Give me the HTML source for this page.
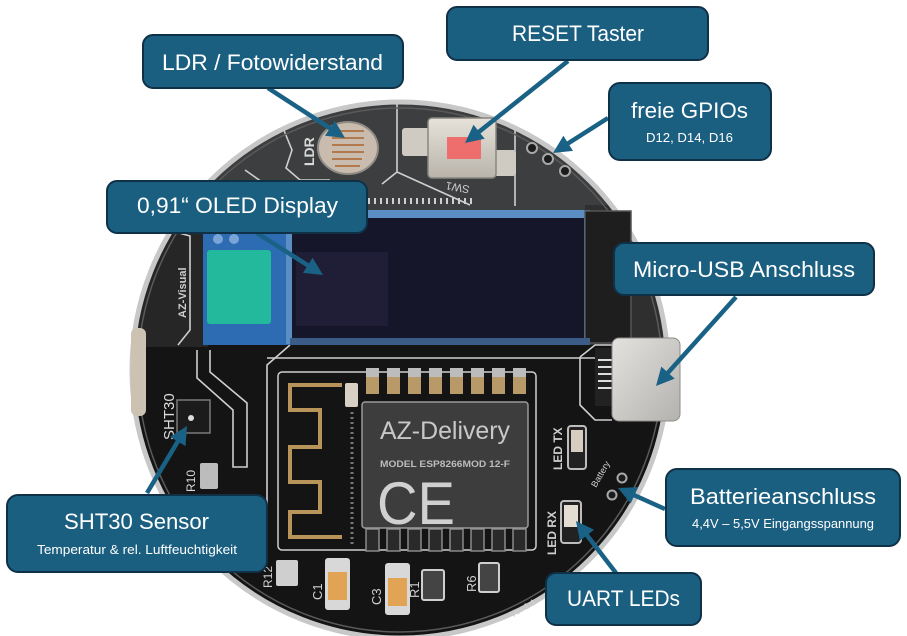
<!DOCTYPE html>
<html><head><meta charset="utf-8"><style>
html,body{margin:0;padding:0;background:#fff;}
svg{display:block;}
text{font-family:"Liberation Sans",sans-serif;}
</style></head><body>
<svg width="907" height="636" viewBox="0 0 907 636" xmlns="http://www.w3.org/2000/svg">
<defs>
<clipPath id="cc"><circle cx="400" cy="370" r="268"/></clipPath>
<linearGradient id="usb" x1="0" y1="0" x2="1" y2="1"><stop offset="0" stop-color="#e4e2de"/><stop offset="1" stop-color="#b4b2ae"/></linearGradient>
<linearGradient id="btn" x1="0" y1="0" x2="0" y2="1"><stop offset="0" stop-color="#e6e2da"/><stop offset="1" stop-color="#b9b4aa"/></linearGradient>
</defs>

<!-- PCB -->
<circle cx="400" cy="370" r="268" fill="#141414"/>
<g clip-path="url(#cc)">
 <rect x="100" y="95" width="620" height="118" fill="#3d3e40"/>
 <rect x="120" y="205" width="88" height="142" fill="#262626"/>
 <rect x="585" y="205" width="100" height="140" fill="#2f2f2f"/>
 <!-- silkscreen top band -->
 <g fill="none" stroke="#cfcfcf" stroke-width="1.6">
  <polyline points="283,128 292,150 286,168 300,180 330,180"/>
  <polyline points="397,104 397,172 382,184"/>
  <polyline points="397,172 470,205"/>
  <line x1="515" y1="128" x2="515" y2="206"/>
  <polyline points="245,170 262,182 250,200"/>
 </g>
 <line x1="368" y1="201" x2="476" y2="201" stroke="#cfcfcf" stroke-width="6" stroke-dasharray="2,4"/>
 <!-- left band silkscreen -->
 <g fill="none" stroke="#cfcfcf" stroke-width="1.6">
  <polyline points="168,230 190,236 190,330 178,345"/>
  <polyline points="197,350 197,378 233,410 233,467 247,467 247,403 210,372 210,350"/>
  <polyline points="267,358 620,358"/>
  <polyline points="290,345 267,365 267,540"/>
  <polyline points="580,357 595,345 612,345"/>
  <polyline points="612,420 595,420 580,405 580,357"/>
 </g>
</g>
<circle cx="400" cy="370" r="268" fill="none" stroke="#c8c8c8" stroke-width="5"/>
<circle cx="400" cy="370" r="262" fill="none" stroke="#5a5a5a" stroke-width="1.5" clip-path="url(#cc)"/>
<rect x="131" y="328" width="15" height="88" rx="6" fill="#cbc2b2"/>

<!-- LDR -->
<ellipse cx="348" cy="148" rx="30" ry="26" fill="#c9bcae" stroke="#8e8a84" stroke-width="2"/>
<g stroke="#b27a4c" stroke-width="2">
 <line x1="334" y1="131" x2="364" y2="131"/><line x1="332" y1="138" x2="364" y2="138"/>
 <line x1="332" y1="145" x2="364" y2="145"/><line x1="332" y1="152" x2="364" y2="152"/>
 <line x1="332" y1="159" x2="362" y2="159"/><line x1="335" y1="166" x2="360" y2="166"/>
</g>
<text x="0" y="0" transform="translate(314,166) rotate(-90)" font-size="14" font-weight="bold" fill="#d8d8d8">LDR</text>

<!-- Reset button -->
<rect x="402" y="128" width="30" height="28" rx="3" fill="#cfcac2"/>
<rect x="492" y="150" width="24" height="26" rx="3" fill="#cfcac2"/>
<rect x="428" y="118" width="68" height="60" rx="4" fill="url(#btn)" stroke="#8a867e" stroke-width="1.5"/>
<rect x="447" y="137" width="34" height="22" fill="#ee6e6e"/>
<text x="0" y="0" transform="translate(470,186) rotate(190)" font-size="11" fill="#cfcfcf">SW1</text>

<!-- GPIO holes -->
<g fill="#1c1c1c" stroke="#a8a8a8" stroke-width="2">
 <circle cx="532" cy="148" r="5"/><circle cx="548" cy="159" r="5"/><circle cx="565" cy="171" r="5"/>
</g>

<!-- OLED module -->
<rect x="203" y="230" width="90" height="115" fill="#2d6bb3"/>
<circle cx="218" cy="239" r="5" fill="#7aa4d6"/><circle cx="234" cy="239" r="5" fill="#7aa4d6"/>
<rect x="207" y="250" width="64" height="74" rx="3" fill="#22b99d"/>
<rect x="286" y="210" width="304" height="134" fill="#5b8ec4"/>
<rect x="292" y="218" width="292" height="120" fill="#16162a"/>
<rect x="296" y="252" width="92" height="74" fill="#201d36"/>
<rect x="585" y="211" width="46" height="132" fill="#1e1e1e" stroke="#555" stroke-width="1.5"/>
<rect x="290" y="338" width="300" height="7" fill="#3b5c86"/>
<text x="0" y="0" transform="translate(186,318) rotate(-90)" font-size="11" font-weight="bold" fill="#cfcfcf">AZ-Visual</text>

<!-- ESP module -->
<g fill="none" stroke="#cfcfcf" stroke-width="1.5"><rect x="278" y="372" width="258" height="178" rx="4"/></g>
<path d="M342,385 H290 V410 H320 V447 H290 V482 H320 V512 H290 V537 H342" fill="none" stroke="#b8945a" stroke-width="4"/>
<rect x="345" y="383" width="13" height="24" rx="2" fill="#d8d0c4"/>
<line x1="352" y1="412" x2="352" y2="545" stroke="#777" stroke-width="3" stroke-dasharray="2,3"/>
<g>
 <rect x="366" y="368" width="13" height="26" fill="#b89a68"/><rect x="387" y="368" width="13" height="26" fill="#b89a68"/>
 <rect x="408" y="368" width="13" height="26" fill="#b89a68"/><rect x="429" y="368" width="13" height="26" fill="#b89a68"/>
 <rect x="450" y="368" width="13" height="26" fill="#b89a68"/><rect x="471" y="368" width="13" height="26" fill="#b89a68"/>
 <rect x="492" y="368" width="13" height="26" fill="#b89a68"/><rect x="513" y="368" width="13" height="26" fill="#b89a68"/>
</g>
<g fill="#bcbcbc">
 <rect x="366" y="368" width="13" height="9"/><rect x="387" y="368" width="13" height="9"/>
 <rect x="408" y="368" width="13" height="9"/><rect x="429" y="368" width="13" height="9"/>
 <rect x="450" y="368" width="13" height="9"/><rect x="471" y="368" width="13" height="9"/>
 <rect x="492" y="368" width="13" height="9"/><rect x="513" y="368" width="13" height="9"/>
</g>
<g fill="#2a2a2a" stroke="#8a8a8a" stroke-width="1.5">
 <rect x="366" y="529" width="13" height="22"/><rect x="387" y="529" width="13" height="22"/>
 <rect x="408" y="529" width="13" height="22"/><rect x="429" y="529" width="13" height="22"/>
 <rect x="450" y="529" width="13" height="22"/><rect x="471" y="529" width="13" height="22"/>
 <rect x="492" y="529" width="13" height="22"/><rect x="513" y="529" width="13" height="22"/>
</g>
<rect x="362" y="402" width="166" height="126" rx="3" fill="#3d3d3d" stroke="#9a9a9a" stroke-width="1.5"/>
<text x="380" y="439" font-size="25" fill="#c8c8c8" textLength="130" lengthAdjust="spacingAndGlyphs">AZ-Delivery</text>
<text x="380" y="467" font-size="9" font-weight="bold" fill="#bdbdbd" textLength="130" lengthAdjust="spacingAndGlyphs">MODEL ESP8266MOD 12-F</text>
<text x="377" y="524" font-size="60" fill="#d0d0d0" textLength="78" lengthAdjust="spacingAndGlyphs">CE</text>

<!-- USB -->
<rect x="595" y="348" width="18" height="58" fill="#222"/>
<g stroke="#ddd" stroke-width="2"><line x1="598" y1="360" x2="612" y2="360"/><line x1="598" y1="367" x2="612" y2="367"/><line x1="598" y1="374" x2="612" y2="374"/><line x1="598" y1="381" x2="612" y2="381"/><line x1="598" y1="388" x2="612" y2="388"/></g>
<rect x="612" y="338" width="68" height="83" rx="7" fill="url(#usb)" stroke="#8e8c88" stroke-width="1"/>

<!-- SHT30 -->
<rect x="177" y="400" width="33" height="33" fill="#1b1b1b" stroke="#7a7a7a" stroke-width="1.5"/>
<circle cx="191" cy="418" r="3" fill="#ddd"/>
<text x="0" y="0" transform="translate(174,440) rotate(-90)" font-size="15" fill="#dcdcdc">SHT30</text>
<rect x="200" y="463" width="18" height="26" rx="2" fill="#bcbcbc"/>
<text x="0" y="0" transform="translate(195,492) rotate(-90)" font-size="12" fill="#d8d8d8">R10</text>

<!-- UART LEDs -->
<rect x="568" y="426" width="18" height="43" rx="3" fill="#222" stroke="#bdbdbd" stroke-width="2"/>
<rect x="571" y="430" width="12" height="22" fill="#d6cdc0"/>
<rect x="561" y="501" width="20" height="42" rx="3" fill="#222" stroke="#bdbdbd" stroke-width="2"/>
<rect x="564" y="505" width="14" height="22" fill="#e4ddd2"/>
<text x="0" y="0" transform="translate(562,470) rotate(-90)" font-size="12" font-weight="bold" fill="#cfcfcf">LED TX</text>
<text x="0" y="0" transform="translate(556,555) rotate(-90)" font-size="12" font-weight="bold" fill="#cfcfcf">LED RX</text>
<!-- battery conn -->
<g fill="#1c1c1c" stroke="#a8a8a8" stroke-width="2"><circle cx="622" cy="478" r="4.5"/><circle cx="612" cy="495" r="4.5"/></g>
<text x="0" y="0" transform="translate(596,488) rotate(-60)" font-size="9" fill="#cfcfcf">Battery</text>

<!-- bottom components -->
<rect x="276" y="560" width="22" height="26" rx="2" fill="#cfcfcf"/>
<rect x="325" y="558" width="25" height="52" rx="3" fill="#d8d8d8"/><rect x="328" y="572" width="19" height="28" fill="#e0a454"/>
<rect x="385" y="563" width="25" height="52" rx="3" fill="#d8d8d8"/><rect x="388" y="578" width="19" height="28" fill="#e0a454"/>
<rect x="422" y="570" width="22" height="30" rx="2" fill="#444" stroke="#cfcfcf" stroke-width="2"/>
<rect x="479" y="563" width="20" height="29" rx="2" fill="#444" stroke="#cfcfcf" stroke-width="2"/>
<text x="0" y="0" transform="translate(322,600) rotate(-90)" font-size="13" fill="#d0d0d0">C1</text>
<text x="0" y="0" transform="translate(381,605) rotate(-90)" font-size="13" fill="#d0d0d0">C3</text>
<text x="0" y="0" transform="translate(419,598) rotate(-90)" font-size="13" fill="#d0d0d0">R1</text>
<text x="0" y="0" transform="translate(476,592) rotate(-90)" font-size="13" fill="#d0d0d0">R6</text>
<text x="0" y="0" transform="translate(272,588) rotate(-90)" font-size="12" fill="#d0d0d0">R12</text>
<text x="0" y="0" transform="translate(512,618) rotate(-30)" font-size="9" fill="#d0d0d0">Ver 1.1</text>

<!-- arrows -->
<g stroke="#1a6285" stroke-width="4.5" stroke-linecap="butt">
 <line x1="268" y1="88" x2="331.6" y2="129.3"/>
 <line x1="257" y1="233" x2="309.5" y2="266.4"/>
 <line x1="568" y1="61" x2="477.5" y2="133"/>
 <line x1="608" y1="118" x2="566.5" y2="144.4"/>
 <line x1="736" y1="297" x2="666.7" y2="374.1"/>
 <line x1="147" y1="493" x2="178.8" y2="439.8"/>
 <line x1="665" y1="509" x2="632.6" y2="494.5"/>
 <line x1="616" y1="573" x2="585.8" y2="533.7"/>
</g>
<g fill="#1a6285">
 <polygon points="345,138 325,135.8 334.8,120.7"/>
 <polygon points="323,275 303,272.9 312.6,257.7"/>
 <polygon points="465,143 473.5,124.8 484.7,138.8"/>
 <polygon points="553,153 563.4,135.7 573,150.9"/>
 <polygon points="656,386 661.3,366.6 674.7,378.6"/>
 <polygon points="187,426 185.5,446.1 170.1,436.9"/>
 <polygon points="618,488 638.1,487.1 630.7,503.5"/>
 <polygon points="576,521 594.1,529.8 579.9,540.8"/>
</g>

<!-- boxes -->
<g fill="#1b5f80" stroke="#0f3147" stroke-width="2">
 <rect x="143" y="35" width="260" height="53" rx="10"/>
 <rect x="447" y="7" width="261" height="53" rx="10"/>
 <rect x="107" y="181" width="260" height="52" rx="10"/>
 <rect x="609" y="83" width="162" height="77" rx="11"/>
 <rect x="614" y="243" width="260" height="52" rx="10"/>
 <rect x="7" y="495" width="260" height="77" rx="11"/>
 <rect x="666" y="469" width="234" height="77" rx="11"/>
 <rect x="546" y="573" width="155" height="52" rx="10"/>
</g>
<g fill="#ffffff" font-size="22">
 <text x="162" y="70" textLength="221" lengthAdjust="spacingAndGlyphs">LDR / Fotowiderstand</text>
 <text x="512" y="41" textLength="132" lengthAdjust="spacingAndGlyphs">RESET Taster</text>
 <text x="137" y="213" textLength="201" lengthAdjust="spacingAndGlyphs">0,91“ OLED Display</text>
 <text x="631" y="118" textLength="117" lengthAdjust="spacingAndGlyphs">freie GPIOs</text>
 <text x="633" y="277" textLength="222" lengthAdjust="spacingAndGlyphs">Micro-USB Anschluss</text>
 <text x="64" y="529" textLength="145" lengthAdjust="spacingAndGlyphs">SHT30 Sensor</text>
 <text x="690" y="504" textLength="186" lengthAdjust="spacingAndGlyphs">Batterieanschluss</text>
 <text x="567" y="606" textLength="113" lengthAdjust="spacingAndGlyphs">UART LEDs</text>
</g>
<g fill="#ffffff" font-size="12.5">
 <text x="646" y="142" textLength="87" lengthAdjust="spacingAndGlyphs">D12, D14, D16</text>
 <text x="37" y="554" textLength="200" lengthAdjust="spacingAndGlyphs">Temperatur &amp; rel. Luftfeuchtigkeit</text>
 <text x="692" y="528" textLength="182" lengthAdjust="spacingAndGlyphs">4,4V – 5,5V Eingangsspannung</text>
</g>
</svg>
</body></html>
